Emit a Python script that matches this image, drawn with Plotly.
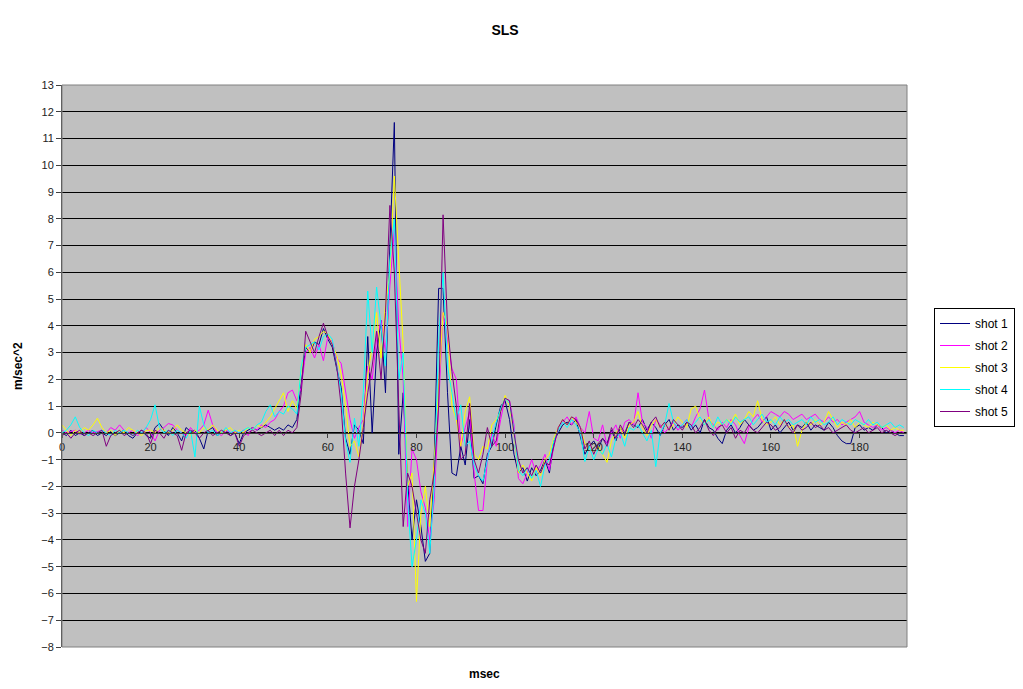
import plotly.graph_objects as go

time_ms = list(range(0, 191))

shot_1 = [
    0, -0.1, 0.1, -0.1, 0, -0.1, 0, 0.1, -0.1, 0,
    -0.1, 0.05, -0.1, 0, 0.1, -0.1, -0.2, 0, 0.1, -0.1,
    -0.2, 0.2, 0.35, 0.1, -0.1, 0.2, 0, -0.3, 0.2, 0.05,
    0.1, -0.2, -0.6, 0.1, 0.2, -0.1, 0, 0.1, -0.1, 0,
    -0.4, 0, 0.1, 0.2, 0.1, 0.2, 0.3, 0.2, 0.1, 0.2,
    0.1, 0.3, 0.2, 0.5, 1.8, 3.2, 3.0, 3.4, 3.3, 3.9,
    3.5, 3.2, 2.4, 1.7, -0.2, -0.8, 0.3, 0.1, -0.4, 3.6,
    0.0, 3.0, 4.2, 1.5, 7.0, 11.6, -0.8, 1.5, -1.8, -4.0,
    -2.5, -3.5, -4.8, -4.5, -1.0, 5.4, 5.4, 1.5, -1.5, -1.6,
    -0.5, -1.2, 0.5, -1.7, -1.6, -1.9, -0.8, -0.5, 0.3, 1.0,
    1.2, 0.5, -0.8, -1.5, -1.3, -1.8, -1.3, -1.6, -1.4, -1.0,
    -1.5, -0.3, 0.0, 0.3, 0.4, 0.3, 0.5, -0.2, -0.8, -0.5,
    -0.3, -0.6, -0.2, -0.4, 0.1, -0.3, 0.2, -0.1, 0.4, 0.3,
    0.2, 0.5, 0.1, 0.4, 0.2, -0.1, 0.3, 0.5, 0.1, 0.3,
    0.2, 0.4, 0.1, 0.3, 0.0, 0.5, 0.2, 0.1, -0.2, -0.4,
    0.1, 0.3, 0.0, 0.2, 0.5, 0.3, 0.1, 0.2, 0.4, 0.6,
    0.1, 0.3, 0.0, 0.2, 0.4, 0.1, 0.3, 0.2, 0.4, 0.1,
    0.3, 0.2, 0.1, 0.4, 0.2, -0.1, -0.3, -0.4, -0.4, 0.2,
    0.3, 0.1, 0.2, 0.1, 0.3, 0.2, 0.0, 0.1, 0.0, -0.1,
    -0.1,
]

shot_2 = [
    0.1, 0, 0.05, 0.1, -0.05, 0, 0.1, 0, 0.05, 0.1,
    0, 0.2, 0.1, 0.3, 0.1, 0, 0.1, -0.1, 0, 0.2,
    0, -0.3, 0.1, 0.2, 0.35, 0.3, 0.1, 0, -0.1, 0.2,
    0, 0.1, 0.3, 0.85, 0.3, 0, -0.1, 0.1, 0, 0.05,
    0, 0.1, -0.1, 0.2, 0.1, 0.3, 0.2, 0.4, 0.5, 0.8,
    1.0, 1.5, 1.6, 1.2, 1.7, 3.0, 3.2, 2.8, 3.3, 2.7,
    3.6, 3.4, 2.8, 2.6, 1.5, 0.5, -0.2, 0.2, 0.5, 2.5,
    2.0, 3.5, 4.2, 3.0, 5.5, 7.6, 4.0, 2.0, -3.5, -0.6,
    -1.0, -2.2, -2.8, -4.0, -2.5, 1.0, 4.5, 3.5, 2.4, 2.0,
    -0.5, 0.2, 0.8, -1.5, -2.9, -2.9, -1.0, 0.0, -0.5, 0.5,
    1.3, 1.2, 0.3, -1.7, -1.9, -1.5, -1.0, -1.5, -1.2, -0.8,
    -1.4, -0.5, 0.2, 0.4, 0.6, 0.3, 0.6, 0.2, 0.0, 0.8,
    -0.2, -0.3, 0.3, -0.5, 0.0, 0.3, -0.2, 0.4, 0.5, 0.3,
    1.5, 0.4, 0.2, -0.2, 0.5, 0.3, 0.0, 0.2, 0.4, 0.1,
    0.3, 0.5, 0.2, 0.6, 0.9, 1.6, 0.5, 0.3, 0.1, 0.4,
    0.2, 0.5, 0.3, -0.1, -0.4, 0.2, 0.5, 0.7, 0.4, 0.6,
    0.8, 0.7, 0.6, 0.8, 0.7, 0.5, 0.6, 0.7, 0.5, 0.6,
    0.7, 0.5, 0.4, 0.6, 0.4, 0.5, 0.3, 0.4, 0.5, 0.6,
    0.8, 0.4, 0.3, 0.2, 0.3, 0.1, 0.2, 0.1, 0.0, 0.1,
    0.0,
]

shot_3 = [
    0.3, 0.1, -0.1, 0.1, 0, 0.2, 0.1, 0.3, 0.55, 0.2,
    0, 0.1, -0.1, 0.1, 0, 0.2, 0.1, 0, -0.1, 0.1,
    0.1, 0, 0.2, 0.1, 0, 0.1, 0.3, 0.1, 0, -0.1,
    0.1, 0, 0.2, 0.1, 0.3, 0.1, 0, 0.1, 0.2, 0,
    0.1, 0, 0.2, 0.1, 0.3, 0.2, 0.4, 0.6, 0.9, 1.2,
    1.5, 0.8, 1.2, 0.9, 2.4, 3.3, 3.0, 3.5, 3.6, 3.8,
    3.7, 3.3, 2.9, 2.2, 1.0, -0.5, -0.3, -0.9, 0.3, 2.2,
    3.2, 4.5, 2.8, 4.8, 6.0, 9.6, 6.5, 3.3, -2.0, -1.5,
    -6.3, -3.0, -2.0, -3.5, -1.0, 2.0, 4.5, 4.0, 1.0, 0.5,
    -0.5, 0.8, 1.35, -0.8, -1.0, -0.5, -0.6, 0.3, 0.5, 0.8,
    1.4, 1.0, 0.0, -1.5, -1.2, -1.5, -1.8, -1.3, -1.6, -1.0,
    -0.8, -0.2, 0.2, 0.5, 0.3, 0.6, 0.4, 0.2, -0.4, -0.6,
    -0.7, -0.5, -0.8, -1.1, -0.3, 0.0, 0.2, -0.2, 0.3, 0.4,
    0.8, 0.2, -0.1, 0.3, 0.5, 0.2, 0.4, 0.1, 0.3, 0.6,
    0.4, 0.2, 0.9, 1.0, 0.5, 0.3, 0.6, 0.2, 0.4, 0.3,
    0.5, 0.4, 0.7, 0.3, 0.5, 0.8, 0.6, 1.2, 0.5, 0.3,
    0.4, 0.6, 0.3, 0.5, 0.2, 0.3, -0.5, 0.1, 0.4, 0.3,
    0.5, 0.3, 0.4, 0.8, 0.5, 0.2, 0.4, 0.3, 0.5, 0.2,
    0.4, 0.3, 0.2, 0.4, 0.3, 0.2, 0.3, 0.1, 0.2, 0.1,
    0.1,
]

shot_4 = [
    0, 0.1, 0.3, 0.6, 0.2, 0, -0.1, 0.1, 0, 0.1,
    0, -0.1, 0.1, 0, 0.1, 0, -0.1, 0.1, 0, 0.2,
    0.5, 1.05, 0.2, 0, 0.1, -0.1, 0.1, 0, -0.2, 0.1,
    -0.9, 1.0, 0.3, 0, 0.1, -0.1, 0, 0.2, 0, 0.1,
    0, 0.1, 0.2, 0.1, 0.3, 0.4, 0.8, 1.05, 0.6, 0.8,
    0.7, 1.0, 0.9, 0.7, 2.5, 3.2, 3.3, 3.4, 3.1, 3.6,
    3.7, 3.5, 2.5, 1.5, -0.3, -1.1, 0.55, -0.5, 1.5, 5.3,
    3.0, 5.45, 4.0, 2.5, 6.5, 8.0, 2.0, 3.0, -2.5, -5.0,
    -4.0, -2.5, -3.0, -4.5, -2.0, 3.5, 6.0, 2.5, 1.5, 0.5,
    1.05, -0.5, -0.3, -1.2, -1.6, -1.8, -1.0, -0.2, 0.4, 0.9,
    1.3, 1.1, 0.1, -1.4, -1.6, -1.3, -1.7, -1.4, -2.0, -1.2,
    -1.0, -0.3, 0.1, 0.4, 0.2, 0.5, 0.3, 0.0, -1.07, -0.5,
    -1.0, -0.6, -0.8, -0.4, -0.9, -0.2, 0.0, -0.5, 0.2, 0.1,
    0.3, 0.0, -0.3, 0.1, -1.26, 0.0, 0.3, 1.1, 0.4, 0.2,
    0.3, 0.5, 0.2, 0.4, 0.6, 0.3, 0.5, 0.2, 0.6, 0.3,
    0.5, 0.3, 0.6, 0.4, 0.5, 0.6, 0.3, 0.5, 0.7, 0.4,
    0.5, 0.3, 0.6, 0.4, 0.5, 0.3, 0.4, 0.5, 0.3, 0.6,
    0.4, 0.5, 0.3, 0.4, 0.6, 0.3, 0.5, 0.4, 0.3, 0.5,
    0.4, 0.3, 0.5, 0.3, 0.4, 0.2, 0.3, 0.4, 0.2, 0.3,
    0.2,
]

shot_5 = [
    -0.1, 0, -0.2, 0, 0.1, -0.1, 0, -0.1, 0, 0.1,
    -0.5, -0.1, 0, 0.1, -0.1, 0, -0.1, 0, 0.1, 0,
    -0.4, 0.1, 0, -0.2, 0.1, 0, -0.1, -0.65, 0, 0.1,
    0, -0.2, 0, 0.1, -0.1, 0, 0.1, 0, -0.1, 0,
    -0.5, -0.1, 0, 0.1, 0, -0.1, 0, 0.1, -0.1, 0.1,
    -0.1, 0.1, 0.0, 0.2, 1.5, 3.8, 3.4, 3.0, 3.6, 4.1,
    3.6, 3.3, 2.5, 1.0, -1.5, -3.55, -2.0, -1.0, 0.2, 1.5,
    2.5, 3.8, 2.0, 4.5, 8.5, 6.0, 1.0, -3.5, -1.5, -2.0,
    -3.0, -4.0, -4.5, -2.5, -1.5, 1.0, 8.15, 4.0, 2.3, 1.0,
    -1.0, -0.8, 1.1, -1.0, -1.5, -0.8, 0.2, -0.5, -0.3, 0.8,
    1.3, 1.2, 0.0, -1.0, -1.5, -1.3, -1.6, -1.2, -1.5, -1.1,
    -1.2, -0.5, 0.2, 0.5, 0.3, 0.6, 0.5, 0.2, -0.6, -0.3,
    -0.8, -0.4, -0.2, -0.5, 0.2, -0.2, 0.3, 0.0, 0.4, 0.2,
    0.5, 0.3, 0.0, 0.4, 0.6, 0.2, 0.4, 0.1, 0.5, 0.3,
    0.1, 0.4, 0.3, 0.0, 0.2, 0.5, 0.1, -0.1, 0.2, 0.3,
    0.0, 0.2, -0.2, 0.1, 0.0, 0.3, 0.1, 0.0, 0.2, 0.4,
    0.3, 0.1, 0.2, 0.5, 0.2, 0.0, 0.3, 0.1, 0.2, 0.4,
    0.2, 0.3, 0.1, 0.2, 0.0, 0.1, 0.2, 0.3, 0.1, 0.0,
    0.1, 0.2, 0.0, 0.1, 0.2, 0.0, 0.1, 0.0, -0.1, 0.0,
    0.0,
]

series_names = ["shot 1", "shot 2", "shot 3", "shot 4", "shot 5"]
series_values = [shot_1, shot_2, shot_3, shot_4, shot_5]
series_colors = ["#000080", "#FF00FF", "#FFFF00", "#00FFFF", "#800080"]

y_ticks = list(range(-8, 14))
x_ticks = [0, 20, 40, 60, 80, 100, 120, 140, 160, 180]

font_family = "Liberation Sans, Arial, sans-serif"

# page body has an 8px default margin; size the figure to fill the rest
W, H = 1015, 681
OFF = 8

fig = go.Figure()
for name, vals, col in zip(series_names, series_values, series_colors):
    fig.add_trace(go.Scatter(
        x=time_ms, y=vals, mode="lines", name=name, legendgroup=name,
        line=dict(color=col, width=1),
    ))

y_min, y_max = -8, 13
zero_pos = (0 - y_min) / (y_max - y_min)

pl, pr, pt, pb = 62 - OFF, 907 - OFF, 85 - OFF, 647 - OFF
pw, ph = pr - pl, pb - pt

fig.update_layout(
    width=W, height=H,
    margin=dict(l=pl, r=W - pr, t=pt, b=H - pb, autoexpand=False),
    paper_bgcolor="white",
    plot_bgcolor="#C0C0C0",
    font=dict(family=font_family, size=11, color="black"),
    title=dict(text="<b>SLS</b>", x=(505 - OFF) / W, xref="container", xanchor="center",
               y=1 - (30 - OFF) / H, yref="container", yanchor="middle",
               font=dict(size=14, family=font_family, color="black")),
    showlegend=True,
    legend=dict(
        x=(934 - 62) / pw, xanchor="left",
        y=(647 - 308) / ph, yanchor="top",
        bgcolor="white", bordercolor="black", borderwidth=1,
        font=dict(size=12, family=font_family, color="black"),
        tracegroupgap=3, itemwidth=30,
    ),
    xaxis=dict(
        range=[0, 190.7], tickvals=x_ticks, ticktext=[str(v) for v in x_ticks],
        showgrid=False, zeroline=False, automargin=False,
        anchor="free", position=zero_pos,
        showline=True, linecolor="#404040", linewidth=1,
        ticks="outside", ticklen=4, tickcolor="#404040",
        tickfont=dict(size=11, color="#222222"),
        title=None,
    ),
    yaxis=dict(
        range=[y_min, y_max], tickvals=y_ticks,
        showgrid=True, gridcolor="black", gridwidth=1,
        zeroline=False, automargin=False,
        showline=True, linecolor="#404040", linewidth=1,
        ticks="outside", ticklen=5, tickcolor="#404040",
        tickfont=dict(size=11, color="#222222"),
        title=None,
    ),
)

fig.add_shape(type="rect", xref="paper", yref="paper", x0=0, y0=0, x1=1, y1=1,
              line=dict(color="#808080", width=1), fillcolor="rgba(0,0,0,0)", layer="above")

fig.add_annotation(text="<b>msec</b>", xref="paper", yref="paper",
                   x=(484 - 62) / pw, y=0, yshift=-36, showarrow=False,
                   font=dict(size=12, family=font_family, color="black"))

fig.add_annotation(text="<b>m/sec^2</b>", xref="paper", yref="paper",
                   x=0, xshift=-53, y=0.5, showarrow=False, textangle=-90,
                   font=dict(size=12, family=font_family, color="black"))

fig.write_html("out.html")
